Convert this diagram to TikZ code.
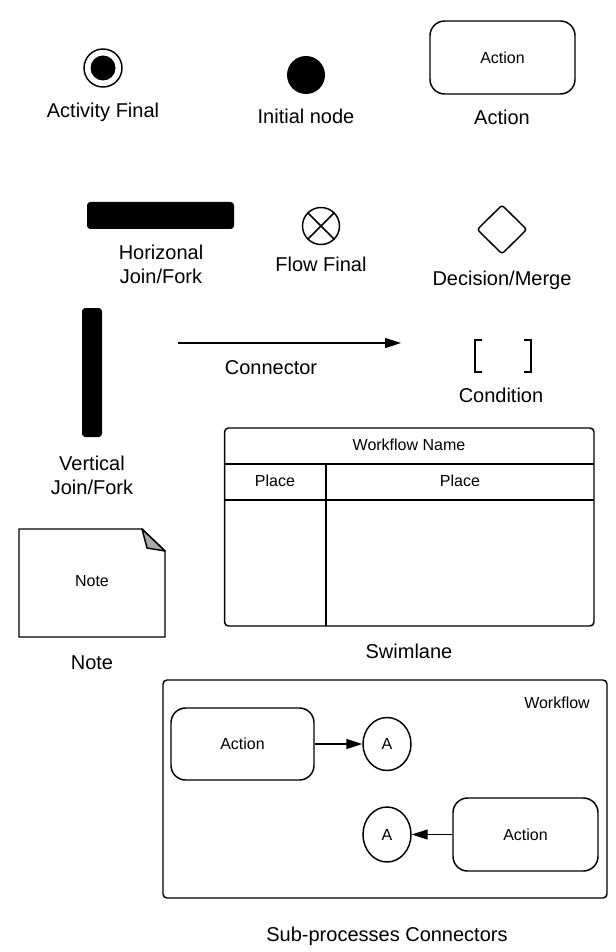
\documentclass[tikz,border=0pt]{standalone}
\usepackage{fontspec}
\setmainfont{Liberation Sans}
\usepackage{tikz}
\usetikzlibrary{arrows.meta,shapes.geometric}
\definecolor{umlink}{HTML}{000000}
\definecolor{umlfold}{HTML}{A8A8A8}
\tikzset{
  ln/.style={draw=umlink, line width=1.1pt},
  lbl/.style={font=\fontsize{15}{18}\selectfont, align=center, inner sep=0pt},
  sml/.style={font=\fontsize{12}{14}\selectfont, inner sep=0pt},
  actbox/.style={ln, rounded corners=11pt, font=\fontsize{12}{14}\selectfont, inner sep=0pt},
  bar/.style={fill=umlink, rounded corners=2.5pt, inner sep=0pt},
  dot/.style={circle, fill=umlink, inner sep=0pt},
  ring/.style={circle, ln, inner sep=0pt},
  conn/.style={ellipse, ln, inner sep=0pt, font=\fontsize{12}{14}\selectfont},
  frame/.style={ln, rounded corners=3pt, inner sep=0pt},
  arr/.style={-{Triangle[length=12pt, width=7.5pt]}, line width=1.1pt, color=umlink},
}

\begin{document}
\begin{tikzpicture}[x=0.75pt, y=-0.75pt]
  \useasboundingbox (0,0) rectangle (616,952);
  % first row
  \node[ring, minimum size=28.5pt] (actfin) at (103,68) {};
  \node[dot, minimum size=18.75pt] (actfindot) at (actfin) {};
  \node[lbl] at (103,112) {Activity Final};
  \node[dot, minimum size=28.5pt] (init) at (306,75) {};
  \node[lbl] at (306,116) {Initial node};
  \node[actbox, minimum width=108.75pt, minimum height=54.75pt] (act) at (502.5,57.5) {Action};
  \node[lbl] at (502,117) {Action};
  % second row
  \node[bar, minimum width=110.25pt, minimum height=20.25pt] (hbar) at (160.5,215.5) {};
  \node[lbl] at (161,264) {Horizonal\\Join/Fork};
  \node[ring, minimum size=27.75pt] (flowfin) at (321,226) {};
  \draw[ln] (flowfin.north west) -- (flowfin.south east);
  \draw[ln] (flowfin.north east) -- (flowfin.south west);
  \node[lbl] at (321,264) {Flow Final};
  \node[diamond, ln, aspect=1, minimum width=37.5pt, minimum height=37pt, inner sep=0pt, rounded corners=2pt] (dec) at (502,229.5) {};
  \node[lbl] at (502,280) {Decision/Merge};
  % third row
  \node[bar, minimum width=15pt, minimum height=96.75pt] (vbar) at (92,372.5) {};
  \node[lbl] at (92,475) {Vertical\\Join/Fork};
  \coordinate (cstart) at (178,343);
  \coordinate (cend) at (401,343);
  \draw[arr] (cstart) -- (cend);
  \node[lbl] at (271,368) {Connector};
  \draw[umlink, line width=2pt] (482,340) -- (475,340) -- (475,372) -- (482,372);
  \draw[umlink, line width=2pt] (524,340) -- (531,340) -- (531,372) -- (524,372);
  \node[lbl] at (501,395) {Condition};
  % swimlane
  \node[frame, minimum width=277.1pt, minimum height=148.5pt] (swim) at (409.25,527) {};
  \draw[ln] (224.5,464) -- (594,464);
  \draw[ln] (224.5,500) -- (594,500);
  \draw[ln] (326,464) -- (326,626);
  \node[sml] at (409,445) {Workflow Name};
  \node[sml] at (275,481) {Place};
  \node[sml] at (460,481) {Place};
  \node[lbl] at (409,651) {Swimlane};
  % note
  \draw[ln] (19,529) -- (142,529) -- (165,551) -- (165,637) -- (19,637) -- cycle;
  \draw[ln, fill=umlfold, line join=round] (142,529) -- (147,548) -- (165,551) -- cycle;
  \node[sml] at (92,581) {Note};
  \node[lbl] at (92,663) {Note};
  % sub-processes
  \node[frame, minimum width=333pt, minimum height=163.5pt] (wflow) at (385,789) {};
  \node[sml] at (557,703) {Workflow};
  \node[actbox, minimum width=107.25pt, minimum height=54pt] (act1) at (242.5,744) {Action};
  \node[conn, minimum width=36pt, minimum height=39.75pt] (ca1) at (387,744) {A};
  \draw[arr] (act1.east) -- (ca1.west);
  \node[actbox, minimum width=108.75pt, minimum height=54.75pt] (act2) at (525.5,834.5) {Action};
  \node[conn, minimum width=36pt, minimum height=41.25pt] (ca2) at (387,834.5) {A};
  \draw[arr] (act2.west) -- (ca2.east);
  \node[lbl] at (387,936) {Sub-processes Connectors};
\end{tikzpicture}
\end{document}
